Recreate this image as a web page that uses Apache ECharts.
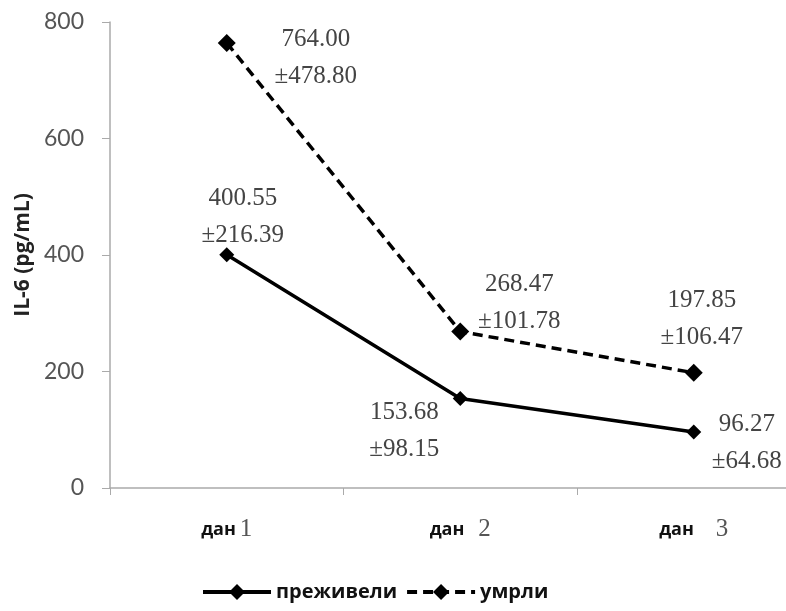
<!DOCTYPE html>
<html><head><meta charset="utf-8">
<script src="https://cdn.jsdelivr.net/npm/echarts@6/dist/echarts.min.js"></script>
<style>html,body{margin:0;padding:0;background:#fff}#c{width:786px;height:611px}</style>
</head><body><div id="c"></div><script>
const categories = ['дан 1', 'дан 2', 'дан 3'];
const seriesNames = ['преживели', 'умрли'];
const survivedMean = [400.55, 153.68, 96.27];
const survivedSD = [216.39, 98.15, 64.68];
const diedMean = [764.00, 268.47, 197.85];
const diedSD = [478.80, 101.78, 106.47];
const yMin = 0, yMax = 800, yInterval = 200;
const yName = 'IL-6 (pg/mL)';

// label placement (layout only)
const survivedLabelOffsets = [[16, -38], [-56, 32], [53, 11]];
const diedLabelOffsets = [[89, 15], [59, -29], [8, -54]];
const xLabelGaps = [4, 14, 22];

function buildData(mean, sd, offsets) {
  return mean.map((v, i) => ({
    value: v,
    label: { offset: offsets[i], formatter: v.toFixed(2) + '\n±' + sd[i].toFixed(2) }
  }));
}
const labelStyle = {
  show: true, position: 'inside', align: 'center', verticalAlign: 'middle',
  fontFamily: 'Liberation Serif', fontSize: 25, lineHeight: 37, color: '#444'
};
const chart = echarts.init(document.getElementById('c'));
chart.setOption({
  backgroundColor: '#fff',
  animation: false,
  grid: { left: 110, width: 700.5, top: 22, bottom: 123, containLabel: false, outerBoundsMode: 'none' },
  legend: {
    data: seriesNames, left: 196, top: 577, itemWidth: 68, itemHeight: 20, itemGap: 8,
    lineStyle: { width: 4 },
    textStyle: { fontFamily: 'Open Sans', fontWeight: 'bold', fontSize: 20, color: '#111' }
  },
  xAxis: {
    type: 'category', data: categories, boundaryGap: true,
    axisLine: { lineStyle: { color: '#aaa', width: 1.5 } },
    axisTick: { show: true, length: 7, lineStyle: { color: '#aaa' } },
    axisLabel: {
      margin: 29,
      formatter: (v, i) => { const p = v.split(' '); return '{a|' + p[0] + '}{b' + i + '|' + p[1] + '}'; },
      rich: {
        a: { fontFamily: 'Open Sans', fontWeight: 'bold', fontSize: 18, color: '#111' },
        b0: { fontFamily: 'Liberation Serif', fontSize: 25, color: '#555', padding: [0, 0, 0, xLabelGaps[0]] },
        b1: { fontFamily: 'Liberation Serif', fontSize: 25, color: '#555', padding: [0, 0, 0, xLabelGaps[1]] },
        b2: { fontFamily: 'Liberation Serif', fontSize: 25, color: '#555', padding: [0, 0, 0, xLabelGaps[2]] }
      }
    }
  },
  yAxis: {
    type: 'value', min: yMin, max: yMax, interval: yInterval,
    name: yName, nameLocation: 'middle', nameGap: 75, nameRotate: 90,
    nameTextStyle: { fontFamily: 'Open Sans', fontWeight: 'bold', fontSize: 21, color: '#222' },
    axisLine: { show: true, lineStyle: { color: '#aaa', width: 1.5 } },
    axisTick: { show: true, inside: false, length: 8, lineStyle: { color: '#aaa' } },
    splitLine: { show: false },
    axisLabel: { margin: 26, fontFamily: 'Lato', fontSize: 23, color: '#555' }
  },
  series: [
    {
      name: seriesNames[0], type: 'line', data: buildData(survivedMean, survivedSD, survivedLabelOffsets),
      symbol: 'diamond', symbolSize: 15,
      lineStyle: { color: '#000', width: 3.5, type: 'solid' },
      itemStyle: { color: '#000' },
      label: labelStyle
    },
    {
      name: seriesNames[1], type: 'line', data: buildData(diedMean, diedSD, diedLabelOffsets),
      symbol: 'diamond', symbolSize: 18,
      lineStyle: { color: '#000', width: 3.5, type: [10, 6] },
      itemStyle: { color: '#000' },
      label: labelStyle
    }
  ]
});
</script></body></html>
